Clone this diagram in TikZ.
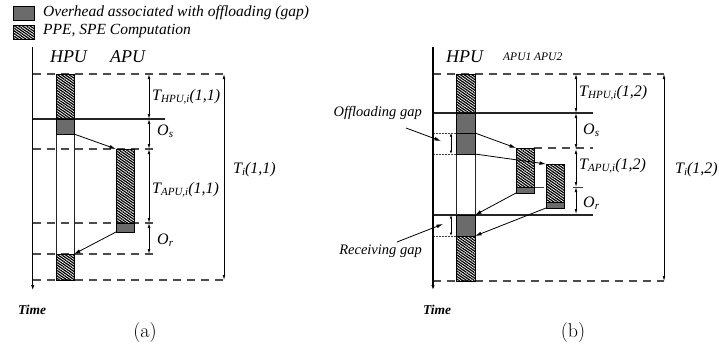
\documentclass[tikz,border=0pt]{standalone}
\usepackage{fontspec}
\newfontfamily\tms{Liberation Serif}
\usetikzlibrary{patterns.meta,arrows.meta}

% time label: main symbol, lowered subscript, argument
\newcommand\tlab[3]{{\fontsize{16}{16}\selectfont #1}\raisebox{-0.45ex}{\fontsize{11}{11}\selectfont #2}{\fontsize{16}{16}\selectfont #3}}

\tikzset{
  hatchfill/.style={pattern={Lines[angle=-35,distance=2.2pt,line width=1.25pt]},
                    pattern color=black, draw=black, line width=0.5pt},
  gapfill/.style={fill=black!58, draw=black, line width=0.5pt},
  dashln/.style={draw=black!70, line width=1.3pt, dash pattern=on 8pt off 6pt},
  sparseln/.style={draw=black!75, line width=1pt, dash pattern=on 10pt off 29pt},
  solidln/.style={draw=black!85, line width=1.2pt},
  dotln/.style={draw=black!75, line width=0.7pt, dash pattern=on 1.5pt off 1.5pt},
  colln/.style={draw=black!85, line width=0.6pt},
  dim/.style={draw=black, line width=0.6pt,
              {Latex[length=5pt,width=2.6pt]}-{Latex[length=5pt,width=2.6pt]}},
  flow/.style={draw=black, line width=0.8pt, -{Latex[length=6.5pt,width=3.8pt]}},
  axisln/.style={draw=black, line width=1.3pt, -{Latex[length=6pt,width=3.2pt]}},
  lbl/.style={font=\tms\itshape, inner sep=0pt, anchor=west},
  head/.style={font=\tms\itshape\fontsize{18}{18}\selectfont, inner sep=0pt},
  timelbl/.style={font=\tms\bfseries\itshape\fontsize{13.5}{14}\selectfont, inner sep=0pt},
  caplbl/.style={font=\fontsize{20}{20}\selectfont, inner sep=0pt},
}

\begin{document}
\begin{tikzpicture}[x=1pt,y=-1pt]
\useasboundingbox (0,0) rectangle (719,354);

% ---------------- legend ----------------
\draw[gapfill] (13,6) rectangle (34,20);
\draw[hatchfill] (13,25) rectangle (34,39);
\node[lbl, font=\tms\itshape\fontsize{15.5}{16}\selectfont] (leg1) at (43,13) {Overhead associated with offloading (gap)};
\node[lbl, font=\tms\itshape\fontsize{15.5}{16}\selectfont] (leg2) at (43,31) {PPE, SPE Computation};

% ================= (a) single APU =================
\coordinate (aTop) at (32.7,47);
\coordinate (aBot) at (32.7,291);

% time marks
\draw[dashln] (32.7,74) -- (224,74);
\draw[solidln] (32.7,119) -- (165,119);
\draw[dashln] (32.7,149) -- (157,149);
\draw[dashln] (32.7,223) -- (157,223);
\draw[dashln] (32.7,254) -- (157,254);
\draw[dashln] (32.7,280) -- (224,280);

\draw[axisln] (aTop) -- (aBot);

% HPU column
\draw[colln] (56,74) -- (56,280);
\draw[colln] (74,74) -- (74,280);
\draw[hatchfill] (56,74) rectangle (74,119);
\draw[gapfill] (56,119) rectangle (74,134);
\draw[hatchfill] (56,254) rectangle (74,280);

% APU column
\draw[hatchfill] (116,149) rectangle (134,223);
\draw[gapfill] (116,223) rectangle (134,232);

% transfers
\coordinate (aSendFrom) at (74,134);
\coordinate (aSendTo) at (116,149);
\coordinate (aRecvFrom) at (116,232);
\coordinate (aRecvTo) at (74,254);
\draw[flow] (aSendFrom) -- (aSendTo);
\draw[flow] (aRecvFrom) -- (aRecvTo);

% intervals
\coordinate (ad0) at (149,74);
\coordinate (ad1) at (149,119);
\coordinate (ad2) at (149,149);
\coordinate (ad3) at (149,223);
\coordinate (ad4) at (149,254);
\draw[dim] (ad0) -- (ad1);
\draw[dim] (ad1) -- (ad2);
\draw[dim] (ad2) -- (ad3);
\draw[dim] (ad3) -- (ad4);
\coordinate (aT0) at (224,74);
\coordinate (aT1) at (224,280);
\draw[dim] (aT0) -- (aT1);

\node[head] (aHPU) at (68.5,57) {HPU};
\node[head] (aAPU) at (127.5,57) {APU};
\node[lbl] (aThpu) at (152,97) {\tlab{T}{HPU,i}{(1,1)}};
\node[lbl] (aOs) at (157,131) {\tlab{O}{s}{}};
\node[lbl] (aTapu) at (152,190) {\tlab{T}{APU,i}{(1,1)}};
\node[lbl] (aOr) at (157,240) {\tlab{O}{r}{}};
\node[lbl] (aTi) at (233,170) {\tlab{T}{i}{(1,1)}};

\node[timelbl] (aTime) at (32,310) {Time};
\node[caplbl] (aCap) at (145,333) {(a)};

% ================= (b) two APUs =================
\coordinate (bTop) at (433,47);
\coordinate (bBot) at (433,291);

\draw[dashln] (433,74) -- (664,74);
\draw[solidln] (433,113) -- (593,113);
\draw[dashln] (534,148) -- (593,148);
\draw[sparseln] (534,187) -- (593,187);
\draw[solidln] (433,215) -- (593,215);
\draw[dashln] (433,281) -- (664,281);
\draw[dotln] (433,133) -- (456,133);
\draw[dotln] (433,154) -- (456,154);
\draw[dotln] (433,236) -- (456,236);

\draw[axisln] (bTop) -- (bBot);

% HPU column
\draw[colln] (456,74) -- (456,281);
\draw[colln] (475,74) -- (475,281);
\draw[hatchfill] (456,74) rectangle (475,113);
\draw[gapfill] (456,113) rectangle (475,154);
\draw[line width=0.9pt] (456,133) -- (475,133);
\draw[gapfill] (456,215) rectangle (475,236);
\draw[hatchfill] (456,236) rectangle (475,281);

% APU1 and APU2 columns
\draw[hatchfill] (516,148) rectangle (534,187);
\draw[gapfill] (516,187) rectangle (534,193);
\draw[hatchfill] (546,164) rectangle (564,202);
\draw[gapfill] (546,202) rectangle (564,208);

% transfers
\coordinate (bS1From) at (475,133);
\coordinate (bS1To) at (516,148);
\coordinate (bS2From) at (475,154);
\coordinate (bS2To) at (546,164);
\coordinate (bR1From) at (516,193);
\coordinate (bR1To) at (475,215);
\coordinate (bR2From) at (546,208);
\coordinate (bR2To) at (475,236);
\draw[flow] (bS1From) -- (bS1To);
\draw[flow] (bS2From) -- (bS2To);
\draw[flow] (bR1From) -- (bR1To);
\draw[flow] (bR2From) -- (bR2To);

% intervals
\coordinate (bd0) at (576,74);
\coordinate (bd1) at (576,113);
\coordinate (bd2) at (576,149);
\coordinate (bd3) at (576,187);
\coordinate (bd4) at (576,214);
\draw[dim] (bd0) -- (bd1);
\draw[dim] (bd1) -- (bd2);
\draw[dim] (bd2) -- (bd3);
\draw[dim] (bd3) -- (bd4);
\coordinate (bT0) at (664,74);
\coordinate (bT1) at (664,281);
\draw[dim] (bT0) -- (bT1);

% gaps
\coordinate (bg1a) at (451,133);
\coordinate (bg1b) at (451,154);
\coordinate (bg2a) at (451,215);
\coordinate (bg2b) at (451,236);
\draw[dim, {Latex[length=3.5pt,width=2.4pt]}-{Latex[length=3.5pt,width=2.4pt]}] (bg1a) -- (bg1b);
\draw[dim, {Latex[length=3.5pt,width=2.4pt]}-{Latex[length=3.5pt,width=2.4pt]}] (bg2a) -- (bg2b);

\node[font=\tms\itshape\fontsize{14.5}{15}\selectfont, inner sep=0pt, anchor=east] (bOff) at (422,113) {Offloading gap};
\node[font=\tms\itshape\fontsize{14.5}{15}\selectfont, inner sep=0pt, anchor=east] (bRec) at (422,251) {Receiving gap};
\coordinate (bOffTip) at (441,141);
\coordinate (bRecTip) at (443,224);
\draw[flow] (406,128) -- (bOffTip);
\draw[flow] (397,242) -- (bRecTip);

\node[head] (bHPU) at (464.5,57) {HPU};
\node[lbl, font=\tms\itshape\fontsize{11.5}{12}\selectfont] (bAPUs) at (503,57) {APU1 APU2};
\node[lbl] (bThpu) at (579,93) {\tlab{T}{HPU,i}{(1,2)}};
\node[lbl] (bOs) at (583,130) {\tlab{O}{s}{}};
\node[lbl] (bTapu) at (579,166) {\tlab{T}{APU,i}{(1,2)}};
\node[lbl] (bOr) at (583,203) {\tlab{O}{r}{}};
\node[lbl] (bTi) at (675,170) {\tlab{T}{i}{(1,2)}};

\node[timelbl] (bTime) at (437,310) {Time};
\node[caplbl] (bCap) at (573,333) {(b)};
\end{tikzpicture}
\end{document}
